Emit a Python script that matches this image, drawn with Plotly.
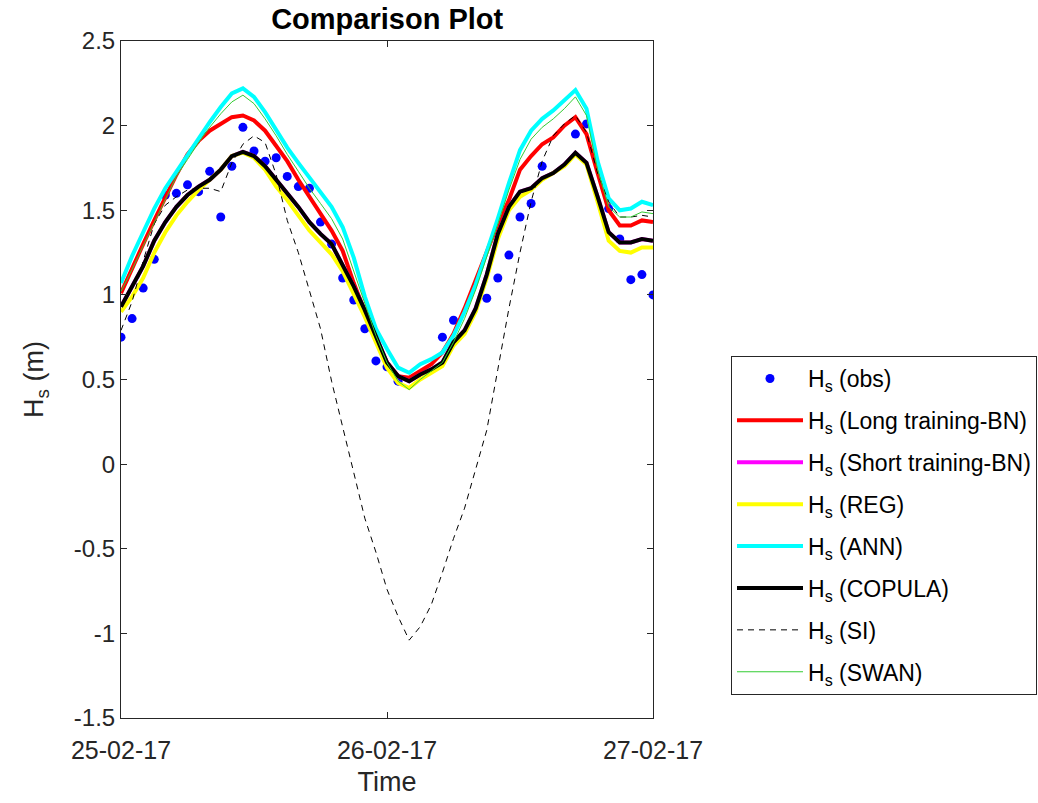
import pandas as pd
import plotly.graph_objects as go

# ---------------- data ----------------
start_time = "2017-02-25 00:00"
n_hours = 49
times = pd.date_range(start_time, periods=n_hours, freq="h")

x_tick_vals = ["2017-02-25", "2017-02-26", "2017-02-27"]
x_tick_text = ["25-02-17", "26-02-17", "27-02-17"]
y_tick_vals = [-1.5, -1.0, -0.5, 0.0, 0.5, 1.0, 1.5, 2.0, 2.5]
y_tick_text = ["-1.5", "-1", "-0.5", "0", "0.5", "1", "1.5", "2", "2.5"]

hs_obs = [0.75, 0.86, 1.04, 1.21, 1.59, 1.60, 1.65, 1.61, 1.73, 1.46,
          1.76, 1.99, 1.85, 1.79, 1.81, 1.70, 1.64, 1.63, 1.43, 1.30,
          1.10, 0.97, 0.80, 0.61, 0.575, 0.49, None, None, None, 0.75,
          0.85, None, None, 0.98, 1.10, 1.235, 1.46, 1.54, 1.76, None,
          None, 1.95, 2.01, None, 1.51, 1.33, 1.09, 1.12, 1.00]

hs_long_bn = [1.01, 1.16, 1.30, 1.44, 1.58, 1.71, 1.83, 1.91, 1.97, 2.01,
              2.05, 2.06, 2.03, 1.97, 1.88, 1.79, 1.68, 1.58, 1.49, 1.38,
              1.26, 1.07, 0.90, 0.73, 0.60, 0.52, 0.51, 0.55, 0.59, 0.66,
              0.77, 0.92, 1.09, 1.25, 1.42, 1.56, 1.74, 1.82, 1.89, 1.93,
              2.00, 2.05, 1.95, 1.72, 1.50, 1.41, 1.41, 1.44, 1.43]

hs_short_bn = [0.93, 1.05, 1.17, 1.32, 1.43, 1.52, 1.59, 1.64, 1.68, 1.74,
               1.82, 1.845, 1.82, 1.76, 1.68, 1.60, 1.52, 1.43, 1.36, 1.30,
               1.18, 1.05, 0.91, 0.76, 0.60, 0.52, 0.49, 0.53, 0.56, 0.60,
               0.72, 0.79, 0.92, 1.12, 1.36, 1.52, 1.61, 1.63, 1.69, 1.72,
               1.77, 1.84, 1.78, 1.58, 1.37, 1.31, 1.31, 1.33, 1.32]

hs_reg = [0.90, 0.99, 1.10, 1.25, 1.37, 1.47, 1.55, 1.62, 1.68, 1.74,
          1.82, 1.84, 1.81, 1.74, 1.64, 1.56, 1.47, 1.38, 1.31, 1.24,
          1.14, 1.01, 0.87, 0.72, 0.57, 0.48, 0.45, 0.50, 0.54, 0.58,
          0.70, 0.77, 0.90, 1.10, 1.33, 1.50, 1.58, 1.62, 1.68, 1.72,
          1.76, 1.83, 1.77, 1.55, 1.32, 1.26, 1.25, 1.28, 1.28]

hs_ann = [1.07, 1.23, 1.37, 1.51, 1.63, 1.73, 1.82, 1.92, 2.02, 2.11,
          2.19, 2.22, 2.17, 2.08, 1.97, 1.87, 1.78, 1.69, 1.61, 1.52,
          1.40, 1.22, 0.99, 0.80, 0.68, 0.57, 0.54, 0.59, 0.62, 0.66,
          0.76, 0.90, 1.06, 1.25, 1.45, 1.66, 1.855, 1.97, 2.04, 2.09,
          2.15, 2.21, 2.10, 1.79, 1.57, 1.50, 1.51, 1.55, 1.53]

hs_copula = [0.93, 1.05, 1.17, 1.32, 1.43, 1.52, 1.59, 1.64, 1.68, 1.74,
             1.82, 1.845, 1.82, 1.76, 1.68, 1.60, 1.52, 1.43, 1.36, 1.30,
             1.18, 1.05, 0.91, 0.76, 0.60, 0.52, 0.49, 0.53, 0.56, 0.60,
             0.72, 0.79, 0.92, 1.12, 1.36, 1.52, 1.61, 1.63, 1.69, 1.72,
             1.77, 1.84, 1.78, 1.58, 1.37, 1.31, 1.31, 1.33, 1.32]

hs_si = [0.79, 0.96, 1.20, 1.42, 1.53, 1.58, 1.62, 1.63, 1.63, 1.61,
         1.78, 1.89, 1.94, 1.90, 1.71, 1.44, 1.25, 1.02, 0.80, 0.49,
         0.22, -0.05, -0.32, -0.52, -0.74, -0.90, -1.04, -0.96, -0.83, -0.64,
         -0.44, -0.26, -0.03, 0.20, 0.56, 0.92, 1.25, 1.55, 1.79, 1.94,
         2.01, 2.06, 1.96, 1.72, 1.55, 1.46, 1.46, 1.47, 1.46]

hs_swan = [1.02, 1.15, 1.29, 1.43, 1.57, 1.70, 1.80, 1.90, 1.99, 2.07,
           2.14, 2.18, 2.13, 2.04, 1.94, 1.83, 1.73, 1.63, 1.54, 1.45,
           1.33, 1.14, 0.95, 0.76, 0.60, 0.49, 0.44, 0.50, 0.55, 0.60,
           0.72, 0.86, 1.03, 1.22, 1.42, 1.62, 1.80, 1.92, 1.99, 2.04,
           2.10, 2.17, 2.06, 1.74, 1.52, 1.46, 1.46, 1.49, 1.48]

# ---------------- figure ----------------
FONT = "Liberation Sans, Arial, Helvetica, sans-serif"

fig = go.Figure()

fig.add_trace(go.Scatter(x=times, y=hs_obs, mode="markers", name="H<sub>s</sub> (obs)",
                         marker=dict(color="#0000ff", size=9), legendgroup="a"))
fig.add_trace(go.Scatter(x=times, y=hs_long_bn, mode="lines", name="H<sub>s</sub> (Long training-BN)",
                         line=dict(color="#ff0000", width=4), legendgroup="b"))
fig.add_trace(go.Scatter(x=times, y=hs_short_bn, mode="lines", name="H<sub>s</sub> (Short training-BN)",
                         line=dict(color="#ff00ff", width=4), legendgroup="c"))
fig.add_trace(go.Scatter(x=times, y=hs_reg, mode="lines", name="H<sub>s</sub> (REG)",
                         line=dict(color="#ffff00", width=4), legendgroup="d"))
fig.add_trace(go.Scatter(x=times, y=hs_ann, mode="lines", name="H<sub>s</sub> (ANN)",
                         line=dict(color="#00ffff", width=4), legendgroup="e"))
fig.add_trace(go.Scatter(x=times, y=hs_copula, mode="lines", name="H<sub>s</sub> (COPULA)",
                         line=dict(color="#000000", width=4), legendgroup="f"))
fig.add_trace(go.Scatter(x=times, y=hs_si, mode="lines", name="H<sub>s</sub> (SI)",
                         line=dict(color="#000000", width=1, dash="6px,5px"), legendgroup="g"))
fig.add_trace(go.Scatter(x=times, y=hs_swan, mode="lines", name="H<sub>s</sub> (SWAN)",
                         line=dict(color="#33cc33", width=1), legendgroup="h"))

axis_common = dict(
    showline=True, linecolor="#262626", linewidth=1, mirror="ticks",
    ticks="inside", ticklen=6, tickcolor="#262626", showgrid=False, zeroline=False,
    automargin=False,
)

fig.update_layout(
    width=1038, height=803,
    margin=dict(l=121, r=385, t=41, b=85, autoexpand=False),
    paper_bgcolor="white", plot_bgcolor="white",
    font=dict(family=FONT, color="#262626"),
    title=dict(text="<b>Comparison Plot</b>", x=0.373, xanchor="center",
               y=1 - 19 / 803, yanchor="middle", yref="container",
               font=dict(family=FONT, size=29, color="#000000")),
    xaxis=dict(range=["2017-02-25", "2017-02-27"], tickvals=x_tick_vals, ticktext=x_tick_text,
               tickfont=dict(family=FONT, size=25, color="#262626"), ticklabelstandoff=10,
               title=dict(text="Time", font=dict(family=FONT, size=27, color="#262626"), standoff=9),
               **axis_common),
    yaxis=dict(range=[-1.5, 2.5], tickvals=y_tick_vals, ticktext=y_tick_text,
               tickfont=dict(family=FONT, size=24, color="#262626"),
               title=dict(text="H<sub>s</sub> (m)", font=dict(family=FONT, size=27, color="#262626"), standoff=22),
               **axis_common),
    legend=dict(xref="container", yref="container",
                x=731 / 1038, xanchor="left", y=1 - 356 / 803, yanchor="top",
                bgcolor="white", bordercolor="#262626", borderwidth=1,
                font=dict(family=FONT, size=23, color="#000000"),
                tracegroupgap=9, itemwidth=66),
    showlegend=True,
)

fig.write_html("out.html")
